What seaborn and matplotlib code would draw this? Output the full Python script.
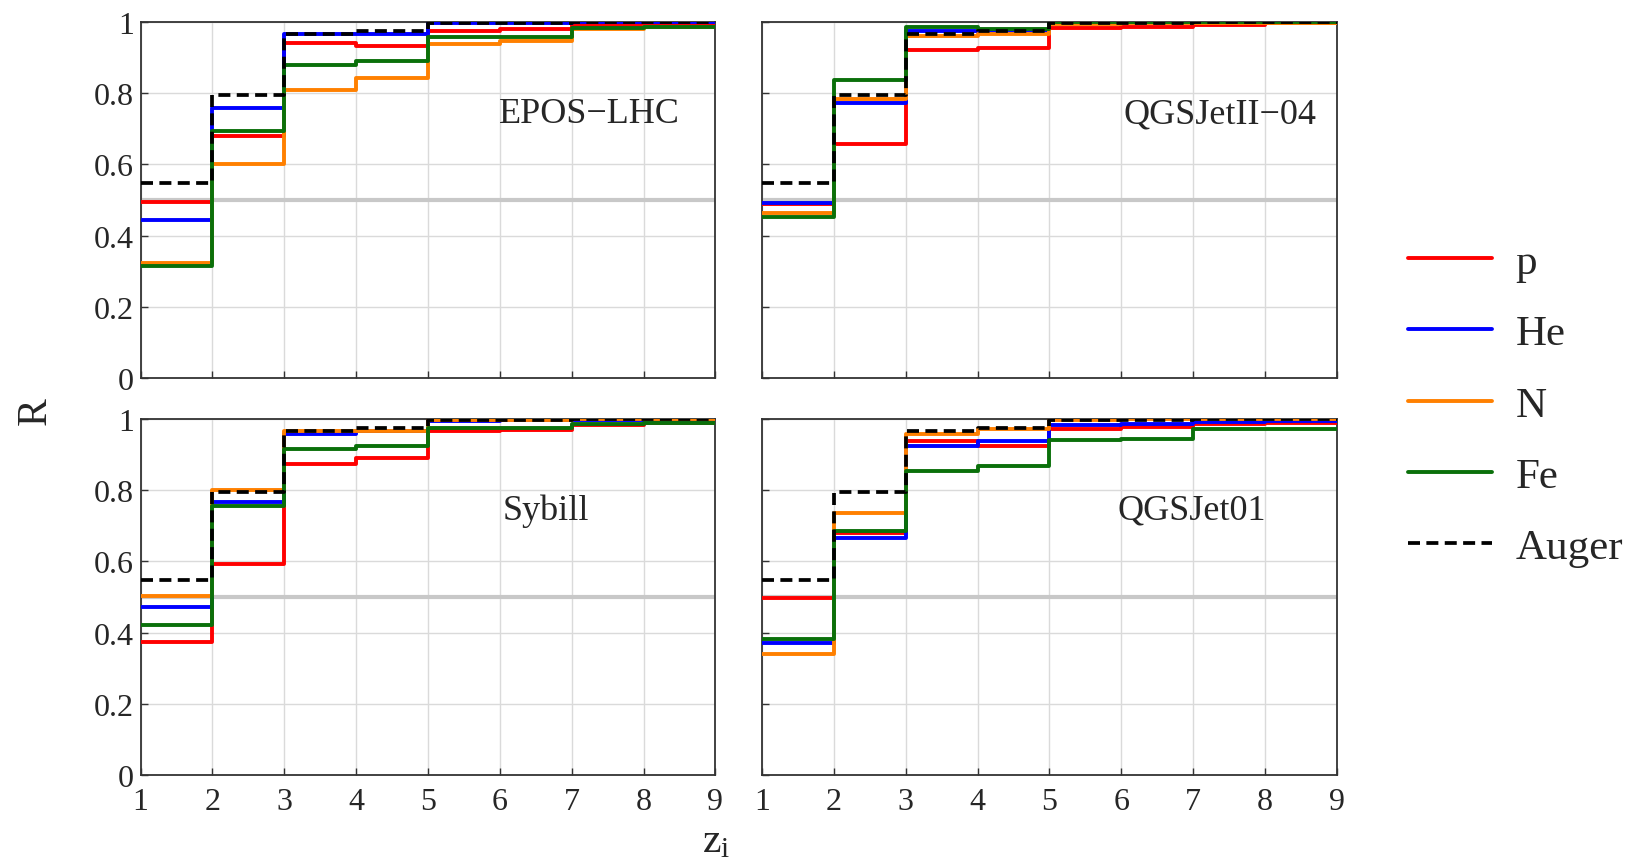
import numpy as np
import pandas as pd
import matplotlib
matplotlib.use("Agg")
import matplotlib.pyplot as plt
import seaborn as sns

# Bin index z_i (left edge of each step)
zi = [1, 2, 3, 4, 5, 6, 7, 8]

# Cumulative fraction R per hadronic interaction model and primary
auger = [0.549, 0.794, 0.966, 0.974, 0.996, 0.998, 1.0, 1.0]

epos_p = [0.494, 0.680, 0.942, 0.932, 0.974, 0.981, 0.991, 0.994]
epos_he = [0.445, 0.759, 0.966, 0.966, 0.996, 0.998, 1.0, 1.0]
epos_n = [0.323, 0.601, 0.810, 0.842, 0.938, 0.947, 0.979, 0.985]
epos_fe = [0.314, 0.694, 0.880, 0.891, 0.957, 0.959, 0.983, 0.985]

qgs2_p = [0.490, 0.656, 0.921, 0.927, 0.983, 0.987, 0.992, 0.996]
qgs2_he = [0.491, 0.772, 0.974, 0.972, 0.998, 1.0, 1.0, 1.0]
qgs2_n = [0.464, 0.784, 0.960, 0.966, 0.994, 0.996, 0.998, 0.998]
qgs2_fe = [0.451, 0.837, 0.985, 0.981, 1.0, 1.0, 1.0, 1.0]

sib_p = [0.374, 0.592, 0.874, 0.891, 0.966, 0.968, 0.983, 0.989]
sib_he = [0.472, 0.767, 0.959, 0.965, 0.994, 0.996, 0.998, 0.998]
sib_n = [0.502, 0.801, 0.966, 0.966, 0.996, 0.996, 1.0, 1.0]
sib_fe = [0.421, 0.756, 0.917, 0.923, 0.974, 0.974, 0.987, 0.989]

qgs1_p = [0.498, 0.680, 0.938, 0.923, 0.972, 0.977, 0.985, 0.989]
qgs1_he = [0.370, 0.667, 0.923, 0.938, 0.983, 0.985, 0.992, 0.994]
qgs1_n = [0.340, 0.735, 0.957, 0.972, 0.998, 1.0, 1.0, 1.0]
qgs1_fe = [0.383, 0.684, 0.853, 0.868, 0.940, 0.944, 0.972, 0.972]

models = ["EPOS\u2212LHC", "QGSJetII\u221204", "Sybill", "QGSJet01"]
primaries = ["p", "He", "N", "Fe"]
colors = {"p": "#ff0000", "He": "#0000ff", "N": "#ff8000", "Fe": "#0a700a"}

model_data = {
    "EPOS\u2212LHC": [epos_p, epos_he, epos_n, epos_fe],
    "QGSJetII\u221204": [qgs2_p, qgs2_he, qgs2_n, qgs2_fe],
    "Sybill": [sib_p, sib_he, sib_n, sib_fe],
    "QGSJet01": [qgs1_p, qgs1_he, qgs1_n, qgs1_fe],
}
label_pos = {
    "EPOS\u2212LHC": 0.78,
    "QGSJetII\u221204": 0.796,
    "Sybill": 0.705,
    "QGSJet01": 0.747,
}

sns.set_theme(style="white")
plt.rcParams["font.family"] = ["Liberation Serif", "DejaVu Serif"]
plt.rcParams["mathtext.fontset"] = "custom"
plt.rcParams["mathtext.rm"] = "Liberation Serif"


def steps_frame(values):
    # repeat the last value so the final step reaches z_i = 9
    x = np.append(np.asarray(zi, dtype=float), zi[-1] + 1)
    y = np.append(np.asarray(values, dtype=float), values[-1])
    return pd.DataFrame({"zi": x, "R": y})


fig = plt.figure(figsize=(16.33, 8.62), dpi=100)
w, h = 0.352, 0.413
positions = [
    (0.0861, 0.5603), (0.4666, 0.5603),
    (0.0861, 0.0998), (0.4666, 0.0998),
]

handles = {}
for idx, (model, (x0, y0)) in enumerate(zip(models, positions)):
    ax = fig.add_axes([x0, y0, w, h])
    ax.set_xlim(1, 9)
    ax.set_ylim(0, 1)
    ax.set_xticks(range(1, 10))
    ax.set_yticks([0, 0.2, 0.4, 0.6, 0.8, 1.0])
    ax.grid(True, color="#dadada", lw=1.0, zorder=0)
    ax.axhline(0.5, color="#c8c8c8", lw=3.0, zorder=1)

    for prim, vals in zip(primaries, model_data[model]):
        sns.lineplot(data=steps_frame(vals), x="zi", y="R", ax=ax,
                     color=colors[prim], lw=2.8, drawstyle="steps-post",
                     zorder=3, label=prim, legend=False)
    sns.lineplot(data=steps_frame(auger), x="zi", y="R", ax=ax,
                 color="black", lw=2.7, drawstyle="steps-post",
                 dashes=False, linestyle=(0, (3.2, 1.7)), zorder=4,
                 label="Auger", legend=False)
    if idx == 0:
        for line in ax.get_lines():
            lab = line.get_label()
            if lab in primaries + ["Auger"]:
                handles[lab] = line

    ax.set_xlabel("")
    ax.set_ylabel("")
    ax.text(label_pos[model], 0.743, model, transform=ax.transAxes,
            ha="center", va="center", fontsize=26)

    for sp in ax.spines.values():
        sp.set_color("#333333")
        sp.set_linewidth(1.3)
        sp.set_visible(True)
    ax.tick_params(axis="both", direction="in", length=5, width=1,
                   color="#333333", labelsize=23, pad=5,
                   bottom=True, left=True, top=False, right=False)
    ax.tick_params(axis="x", pad=9)
    ax.set_yticklabels(["0", "0.2", "0.4", "0.6", "0.8", "1"])
    if idx in (1, 3):
        ax.tick_params(axis="y", labelleft=False)
    if idx in (0, 1):
        ax.tick_params(axis="x", labelbottom=False)

fig.text(0.022, 0.523, "R", rotation=90, ha="center", va="center",
         fontsize=30)
fig.text(0.4385, 0.023, r"$\mathregular{z_i}$", ha="center", va="center",
         fontsize=30)

order = primaries + ["Auger"]
fig.legend([handles[k] for k in order], order, loc="center left",
           bbox_to_anchor=(0.862, 0.529), frameon=False, fontsize=31,
           handlelength=1.95, handletextpad=0.55, labelspacing=0.75,
           borderpad=0, borderaxespad=0)

fig.savefig("out.png", dpi=100)
